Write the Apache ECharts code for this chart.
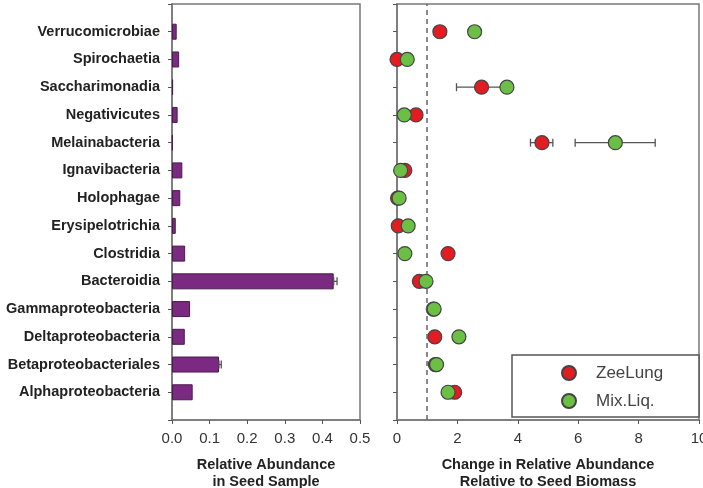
<!DOCTYPE html>
<html>
<head>
<meta charset="utf-8">
<script src="https://cdn.jsdelivr.net/npm/echarts@6/dist/echarts.min.js"></script>
<style>
  html, body { margin: 0; padding: 0; background: #fff; }
  #chart { width: 703px; height: 488px; }
</style>
</head>
<body>
<div id="chart"></div>
<script>
// categories, bottom to top (blank slots pad each end)
const categories = ['', 'Alphaproteobacteria', 'Betaproteobacteriales', 'Deltaproteobacteria',
  'Gammaproteobacteria', 'Bacteroidia', 'Clostridia', 'Erysipelotrichia', 'Holophagae',
  'Ignavibacteria', 'Melainabacteria', 'Negativicutes', 'Saccharimonadia', 'Spirochaetia',
  'Verrucomicrobiae', '']

// relative abundance in seed sample
const seedAbundance = [null, 0.055, 0.125, 0.034, 0.048, 0.43, 0.035, 0.010, 0.022,
  0.0275, 0.002, 0.015, 0.003, 0.019, 0.0125, null]
// [category, low, high]
const seedErrors = [
  ['Bacteroidia', 0.43, 0.439],
  ['Betaproteobacteriales', 0.125, 0.131]
]

// change relative to seed biomass
const zeeLung = [null, 1.91, 1.27, 1.25, 1.20, 0.74, 1.69, 0.04, 0.02,
  0.26, 4.80, 0.63, 2.80, 0.00, 1.42, null]
const mixLiq = [null, 1.69, 1.31, 2.05, 1.23, 0.96, 0.26, 0.37, 0.07,
  0.12, 7.23, 0.24, 3.64, 0.34, 2.57, null]
const zeeLungErrors = [
  ['Saccharimonadia', 1.97, 3.63],
  ['Melainabacteria', 4.42, 5.16]
]
const mixLiqErrors = [
  ['Melainabacteria', 5.90, 8.55]
]

const leftTicks = [0, 0.1, 0.2, 0.3, 0.4, 0.5]
const rightTicks = [0, 2, 4, 6, 8, 10]

const FONT = 'Liberation Sans'
const frameColor = '#777'
const barColor = '#7a2a80'
const redColor = '#e31b23'
const greenColor = '#6cbf45'

const chart = echarts.init(document.getElementById('chart'))

const errorBar = (xIndex, yIndex, z) => ({
  type: 'custom',
  xAxisIndex: xIndex,
  yAxisIndex: yIndex,
  z: z,
  renderItem: (params, api) => {
    const y = api.value(0)
    const lo = api.coord([api.value(1), y])
    const hi = api.coord([api.value(2), y])
    const cap = 4
    const style = { stroke: '#555', lineWidth: 1.3 }
    return {
      type: 'group',
      children: [
        { type: 'line', shape: { x1: lo[0], y1: lo[1], x2: hi[0], y2: hi[1] }, style },
        { type: 'line', shape: { x1: lo[0], y1: lo[1] - cap, x2: lo[0], y2: lo[1] + cap }, style },
        { type: 'line', shape: { x1: hi[0], y1: hi[1] - cap, x2: hi[0], y2: hi[1] + cap }, style }
      ]
    }
  },
  encode: { y: 0, x: [1, 2] }
})

const yAxisBase = {
  type: 'category',
  data: categories,
  boundaryGap: false,
  axisLine: { lineStyle: { color: frameColor, width: 1.5 } },
  axisTick: { show: true, length: 4, lineStyle: { color: '#555' } },
  splitLine: { show: false }
}

const xAxisBase = {
  type: 'value',
  axisLine: { show: true, lineStyle: { color: frameColor, width: 1.5 } },
  axisTick: { show: true, length: 4, lineStyle: { color: '#555' } },
  splitLine: { show: false },
  axisLabel: { fontFamily: FONT, fontSize: 15, color: '#333', margin: 11, showMaxLabel: true },
  nameLocation: 'middle',
  nameGap: 37,
  nameTextStyle: { fontFamily: FONT, fontSize: 14.5, fontWeight: 'bold', color: '#222', lineHeight: 16.5 }
}

const option = {
  animation: false,
  backgroundColor: '#fff',
  grid: [
    { left: 172, right: 343, top: 4, bottom: 68, show: true, borderColor: frameColor, borderWidth: 1.5,
      containLabel: false, outerBoundsMode: 'none' },
    { left: 397, right: 4, top: 4, bottom: 68, show: true, borderColor: frameColor, borderWidth: 1.5,
      containLabel: false, outerBoundsMode: 'none' }
  ],
  xAxis: [
    Object.assign({}, xAxisBase, {
      gridIndex: 0, min: leftTicks[0], max: leftTicks[leftTicks.length - 1], interval: 0.1,
      name: 'Relative Abundance\nin Seed Sample',
      axisLabel: Object.assign({}, xAxisBase.axisLabel, { formatter: v => v.toFixed(1) })
    }),
    Object.assign({}, xAxisBase, {
      gridIndex: 1, min: rightTicks[0], max: rightTicks[rightTicks.length - 1], interval: 2,
      name: 'Change in Relative Abundance\nRelative to Seed Biomass'
    })
  ],
  yAxis: [
    Object.assign({}, yAxisBase, {
      gridIndex: 0,
      axisLabel: { fontFamily: FONT, fontSize: 14.5, fontWeight: 'bold', color: '#222', margin: 12 }
    }),
    Object.assign({}, yAxisBase, {
      gridIndex: 1,
      axisLabel: { show: false }
    })
  ],
  legend: {
    orient: 'vertical',
    left: 561,
    top: 364,
    itemWidth: 14,
    itemHeight: 14,
    itemGap: 10,
    padding: 0,
    z: 100,
    textStyle: { fontFamily: FONT, fontSize: 17, color: '#444', lineHeight: 18, padding: [0, 0, 0, 15] },
    data: [
      { name: 'ZeeLung', icon: 'circle' },
      { name: 'Mix.Liq.', icon: 'circle' }
    ]
  },
  graphic: [
    {
      type: 'rect',
      shape: { x: 512, y: 355, width: 187, height: 62 },
      style: { fill: '#fff', stroke: '#555', lineWidth: 1.5 },
      z: 90
    }
  ],
  series: [
    {
      type: 'bar',
      xAxisIndex: 0,
      yAxisIndex: 0,
      data: seedAbundance,
      barWidth: 16,
      itemStyle: { color: barColor, borderColor: '#4a1a4e', borderWidth: 1 }
    },
    errorBar(0, 0, 3),
    errorBar(1, 1, 3),
    errorBar(1, 1, 3),
    {
      name: 'ZeeLung',
      type: 'scatter',
      xAxisIndex: 1,
      yAxisIndex: 1,
      symbolSize: 14,
      z: 4,
      data: zeeLung.map((v, i) => [v, categories[i]]).filter(d => d[0] !== null),
      itemStyle: { color: redColor, borderColor: '#444', borderWidth: 1.2, opacity: 1 },
      markLine: {
        silent: true,
        symbol: 'none',
        label: { show: false },
        lineStyle: { color: '#666', type: [5, 4], width: 1.5 },
        data: [{ xAxis: 1 }]
      }
    },
    {
      name: 'Mix.Liq.',
      type: 'scatter',
      xAxisIndex: 1,
      yAxisIndex: 1,
      symbolSize: 14,
      z: 5,
      data: mixLiq.map((v, i) => [v, categories[i]]).filter(d => d[0] !== null),
      itemStyle: { color: greenColor, borderColor: '#444', borderWidth: 1.2, opacity: 1 }
    }
  ]
}

option.series[1].data = seedErrors.map(e => [e[0], e[1], e[2]])
option.series[2].data = zeeLungErrors.map(e => [e[0], e[1], e[2]])
option.series[3].data = mixLiqErrors.map(e => [e[0], e[1], e[2]])

chart.setOption(option)
</script>
</body>
</html>
